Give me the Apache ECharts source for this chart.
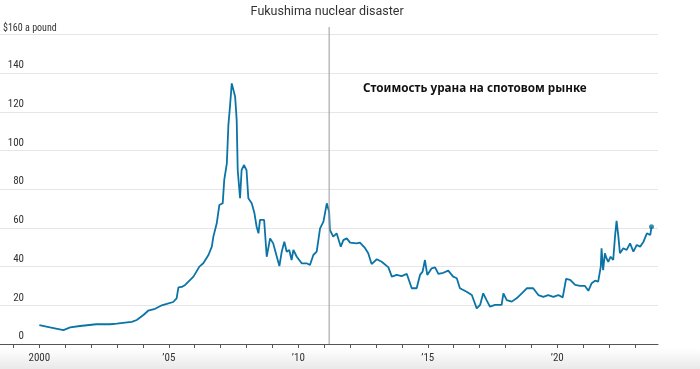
<!DOCTYPE html>
<html>
<head>
<meta charset="utf-8">
<script src="https://cdn.jsdelivr.net/npm/echarts@6/dist/echarts.min.js"></script>
<style>
html,body{margin:0;padding:0;background:#fff;}
#chart{width:700px;height:369px;}
</style>
</head>
<body>
<div id="chart"></div>
<script>
// Data (decimal year, $ per pound)
const years = [
  2000.00, 2000.41, 2000.93, 2001.19, 2001.57, 2002.20, 2002.73, 2002.99, 2003.31, 2003.57,
  2003.76, 2004.02, 2004.20, 2004.47, 2004.73, 2004.92, 2005.17, 2005.30, 2005.37, 2005.50,
  2005.63, 2005.95, 2006.18, 2006.33, 2006.53, 2006.66, 2006.72, 2006.85, 2006.95, 2007.08,
  2007.14, 2007.24, 2007.30, 2007.36, 2007.43, 2007.49, 2007.56, 2007.62, 2007.66, 2007.75,
  2007.81, 2007.90, 2008.00, 2008.07, 2008.20, 2008.30, 2008.39, 2008.46, 2008.52, 2008.68,
  2008.78, 2008.91, 2009.03, 2009.17, 2009.27, 2009.36, 2009.46, 2009.55, 2009.65, 2009.74,
  2009.81, 2009.94, 2010.13, 2010.32, 2010.45, 2010.58, 2010.71, 2010.84, 2010.97, 2011.10,
  2011.19, 2011.22, 2011.35, 2011.48, 2011.64, 2011.74, 2011.87, 2012.00, 2012.25, 2012.38,
  2012.58, 2012.70, 2012.83, 2013.03, 2013.22, 2013.48, 2013.61, 2013.80, 2013.99, 2014.19,
  2014.38, 2014.57, 2014.70, 2014.80, 2014.89, 2014.98, 2015.15, 2015.28, 2015.41, 2015.60,
  2015.79, 2015.98, 2016.12, 2016.24, 2016.50, 2016.70, 2016.89, 2017.02, 2017.14, 2017.27,
  2017.40, 2017.60, 2017.85, 2017.92, 2018.05, 2018.24, 2018.43, 2018.63, 2018.82, 2019.07,
  2019.27, 2019.46, 2019.65, 2019.85, 2020.04, 2020.21, 2020.34, 2020.50, 2020.69, 2020.88,
  2021.07, 2021.20, 2021.33, 2021.46, 2021.58, 2021.68, 2021.71, 2021.77, 2021.84, 2021.90,
  2021.97, 2022.06, 2022.16, 2022.23, 2022.29, 2022.36, 2022.42, 2022.55, 2022.68, 2022.81,
  2022.94, 2023.07, 2023.20, 2023.33, 2023.46, 2023.59, 2023.64
];
const prices = [
  9.8, 8.6, 7.2, 8.6, 9.3, 10.2, 10.2, 10.5, 11.0, 11.4,
  12.4, 15.0, 17.2, 18.2, 20.0, 20.7, 21.7, 23.6, 29.3, 29.5,
  30.5, 34.8, 40.0, 41.7, 46.0, 50.3, 55.5, 62.4, 71.8, 72.7,
  84.8, 93.4, 113.2, 122.6, 134.7, 135.6, 127.8, 115.8, 89.9, 75.3,
  89.9, 92.5, 89.9, 75.3, 72.7, 68.0, 60.6, 57.2, 64.1, 64.1,
  45.1, 54.6, 52.0, 45.1, 40.3, 47.7, 52.9, 47.7, 48.6, 43.4,
  48.6, 45.1, 41.7, 41.7, 40.8, 46.0, 47.7, 59.8, 63.2, 72.7,
  68.4, 58.9, 55.5, 57.2, 50.3, 53.7, 54.6, 52.4, 52.0, 52.4,
  49.5, 46.9, 41.3, 43.8, 42.5, 39.6, 34.8, 35.7, 35.1, 36.2,
  28.8, 28.8, 35.7, 37.4, 43.4, 35.7, 39.1, 39.6, 36.2, 36.8,
  37.9, 34.8, 34.0, 28.8, 27.0, 25.3, 18.4, 20.2, 26.2, 22.7,
  19.3, 20.2, 20.2, 26.2, 22.7, 21.9, 23.6, 26.2, 28.8, 28.8,
  25.3, 24.4, 25.3, 24.4, 25.3, 24.1, 33.6, 33.1, 30.5, 30.0,
  30.0, 27.5, 31.4, 32.7, 32.2, 40.0, 49.5, 38.2, 46.9, 44.3,
  42.5, 45.1, 43.4, 55.5, 63.7, 55.5, 46.9, 49.5, 48.6, 52.0,
  47.7, 51.2, 50.3, 52.9, 57.2, 56.3, 60.6
];
const xLabelValues = [2000, 2005, 2010, 2015, 2020];
const xTickValues = [1999,2000,2001,2002,2003,2004,2005,2006,2007,2008,2009,2010,2011,
                     2012,2013,2014,2015,2016,2017,2018,2019,2020,2021,2022,2023];
const yTicks = [0, 20, 40, 60, 80, 100, 120, 140, 160];
const eventYear = 2011.19;
const eventLabel = 'Fukushima nuclear disaster';
const seriesLabel = 'Стоимость урана на спотовом рынке';
const unitLabel = '$160 a pound';

const lineColor = '#0a74a6';
const narrow = '"Liberation Sans Narrow", "Roboto Condensed", Roboto, sans-serif';

const seriesData = years.map((y, i) => [y, prices[i]]);
const lastPoint = seriesData[seriesData.length - 1];

const chart = echarts.init(document.getElementById('chart'), null, {renderer: 'canvas'});
chart.setOption({
  animation: false,
  backgroundColor: '#fff',
  grid: {left: 0, right: 42, top: 34.4, bottom: 25, containLabel: false},
  xAxis: {
    type: 'value',
    min: 1998.48,
    max: 2023.89,
    splitLine: {show: false},
    axisLine: {show: true, lineStyle: {color: '#555', width: 1}},
    axisTick: {show: true, length: 4, lineStyle: {color: '#555'}, customValues: xTickValues},
    axisLabel: {
      customValues: xLabelValues,
      margin: 9,
      color: '#333',
      fontFamily: narrow,
      fontSize: 11,
      formatter: v => v === 2000 ? '2000' : '\u2019' + String(v).slice(2)
    }
  },
  yAxis: {
    type: 'value',
    min: 0, max: 160, interval: 20,
    axisLine: {show: false},
    axisTick: {show: false},
    splitLine: {show: true, lineStyle: {color: '#e6e6e6', width: 1}},
    axisLabel: {
      inside: true,
      margin: 24,
      align: 'right',
      verticalAlign: 'bottom',
      padding: [0, 0, 2, 0],
      color: '#333',
      fontFamily: narrow,
      fontSize: 11,
      formatter: v => v === 160 ? '' : String(v)
    }
  },
  series: [
    {
      type: 'line',
      data: seriesData,
      showSymbol: false,
      lineStyle: {color: lineColor, width: 1.8},
      itemStyle: {color: lineColor},
      z: 3
    },
    {
      type: 'scatter',
      data: [lastPoint],
      symbol: 'circle',
      symbolSize: 5,
      itemStyle: {color: lineColor},
      z: 4
    }
  ]
});

function addGraphics() {
  const top = chart.convertToPixel({gridIndex: 0}, [eventYear, 160]);
  const bottom = chart.convertToPixel({gridIndex: 0}, [eventYear, 0]);
  chart.setOption({
    graphic: [
      {
        type: 'rect', silent: true, z: -1,
        shape: {x: 0, y: 348, width: 700, height: 21},
        style: {fill: new echarts.graphic.LinearGradient(0, 0, 0, 1, [
          {offset: 0, color: '#ffffff'}, {offset: 1, color: '#e9e9e9'}])}
      },
      {
        type: 'line', silent: true, z: 5,
        shape: {x1: top[0], y1: 27, x2: bottom[0], y2: bottom[1]},
        style: {stroke: '#999', lineWidth: 1}
      },
      {
        type: 'text', silent: true, z: 5,
        x: top[0] - 2, y: 12,
        style: {text: eventLabel, fill: '#333', font: '12.5px Roboto, sans-serif',
                align: 'center', verticalAlign: 'middle'}
      },
      {
        type: 'text', silent: true, z: 5,
        x: 363, y: 88.5,
        style: {text: seriesLabel, fill: '#111', font: 'bold 11.7px "Noto Sans", sans-serif',
                align: 'left', verticalAlign: 'middle'}
      },
      {
        type: 'text', silent: true, z: 5,
        x: 3, y: 28.5,
        style: {text: unitLabel, fill: '#333', font: '10px ' + narrow,
                align: 'left', verticalAlign: 'middle'}
      }
    ]
  });
}
addGraphics();
</script>
</body>
</html>
